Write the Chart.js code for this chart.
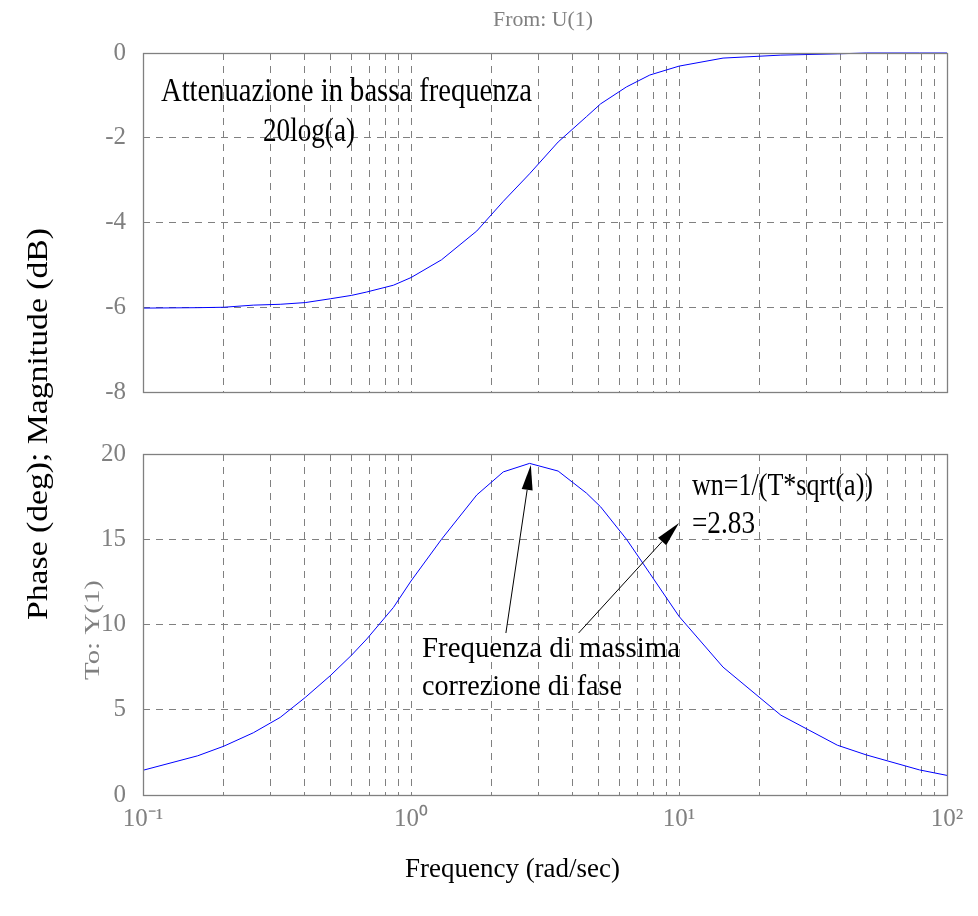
<!DOCTYPE html>
<html lang="it">
<head>
<meta charset="UTF-8">
<title>Bode - rete anticipatrice</title>
<script src="https://cdn.jsdelivr.net/npm/chart.js"></script>
<style>
  body { margin: 0; background: #fff; }
  #wrap { position: relative; width: 978px; height: 916px; }
  #wrap canvas { position: absolute; left: 0; top: 0; }
</style>
</head>
<body>
<div id="wrap">
  <canvas id="magChart" width="978" height="916"></canvas>
  <canvas id="phaseChart" width="978" height="916"></canvas>
</div>
<script>
// dati
const freq = [0.1, 0.16, 0.2, 0.258, 0.325, 0.403, 0.5, 0.6, 0.684, 0.86, 1.0, 1.3, 1.76, 2.21, 2.77,
              3.54, 4.52, 5.1, 6.37, 7.78, 10, 14.6, 24, 39, 50, 79, 100];
const magnitudeDb = [-6.02, -6.01, -6.0, -5.95, -5.93, -5.89, -5.8, -5.72, -5.64, -5.48, -5.3, -4.88, -4.2, -3.5, -2.85,
                     -2.1, -1.5, -1.2, -0.8, -0.52, -0.31, -0.12, -0.05, -0.02, 0, 0, 0];
const phaseDeg = [1.45, 2.3, 2.86, 3.65, 4.55, 5.72, 7.0, 8.2, 9.15, 11.0, 12.55, 15.0, 17.6, 18.95, 19.45,
                  19.0, 17.7, 16.9, 15.0, 13.0, 10.48, 7.5, 4.68, 2.92, 2.35, 1.47, 1.15];

const freqTicks = [0.1, 0.2, 0.3, 0.4, 0.5, 0.6, 0.7, 0.8, 0.9, 1, 2, 3, 4, 5, 6, 7, 8, 9,
                   10, 20, 30, 40, 50, 60, 70, 80, 90, 100];
const freqTickLabels = { 0.1: '10⁻¹', 1: '10⁰', 10: '10¹', 100: '10²' };
const magTicks = [-8, -6, -4, -2, 0];
const phaseTicks = [0, 5, 10, 15, 20];

const SERIF = '"Liberation Serif", "Times New Roman", serif';
const GREY = '#808080';

// testo con larghezza imposta (il font originale e' piu' stretto)
function fitText(ctx, text, x, y, w, size, color, rot) {
  ctx.save();
  ctx.font = size + 'px ' + SERIF;
  ctx.fillStyle = color;
  ctx.textAlign = 'left';
  ctx.textBaseline = 'alphabetic';
  const m = ctx.measureText(text).width;
  ctx.translate(x, y);
  if (rot) ctx.rotate(rot);
  ctx.scale(w / m, 1);
  ctx.fillText(text, 0, 0);
  ctx.restore();
}

function arrow(ctx, x1, y1, x2, y2) {
  const a = Math.atan2(y2 - y1, x2 - x1);
  const L = 25, W = 5.5;
  const bx = x2 - L * Math.cos(a), by = y2 - L * Math.sin(a);
  ctx.save();
  ctx.strokeStyle = '#000';
  ctx.fillStyle = '#000';
  ctx.lineWidth = 1;
  ctx.beginPath();
  ctx.moveTo(x1, y1);
  ctx.lineTo(bx, by);
  ctx.stroke();
  ctx.beginPath();
  ctx.moveTo(x2, y2);
  ctx.lineTo(bx + W * Math.sin(a), by - W * Math.cos(a));
  ctx.lineTo(bx - W * Math.sin(a), by + W * Math.cos(a));
  ctx.closePath();
  ctx.fill();
  ctx.restore();
}

const boxPlugin = {
  id: 'box',
  afterDraw(chart) {
    const { ctx, chartArea: a } = chart;
    ctx.save();
    ctx.strokeStyle = GREY;
    ctx.lineWidth = 1.3;
    ctx.strokeRect(a.left + 0.5, a.top + 0.5, a.right - a.left, a.bottom - a.top);
    ctx.restore();
  }
};

// frecce in coordinate dei dati [f1, p1, f2, p2]
const arrows = [[2.26, 9.5, 2.8, 19.35], [4.22, 9.5, 10.0, 15.95]];

const labelsPlugin = {
  id: 'labels',
  afterDraw(chart) {
    const { ctx, scales } = chart;
    const x = scales.x, y = scales.y;
    arrows.forEach(r => arrow(ctx, x.getPixelForValue(r[0]), y.getPixelForValue(r[1]),
                                   x.getPixelForValue(r[2]), y.getPixelForValue(r[3])));
    fitText(ctx, 'Attenuazione in bassa frequenza', 161, 101, 371, 33, '#000');
    fitText(ctx, '20log(a)', 263, 141, 92, 33, '#000');
    fitText(ctx, 'wn=1/(T*sqrt(a))', 692, 495, 181, 31, '#000');
    fitText(ctx, '=2.83', 692, 533, 63, 31, '#000');
    fitText(ctx, 'Frequenza di massima', 422, 657, 258, 30, '#000');
    fitText(ctx, 'correzione di fase', 422, 695, 200, 30, '#000');
    fitText(ctx, 'From: U(1)', 493, 26, 100, 22, GREY);
    fitText(ctx, 'To: Y(1)', 99, 680, 100, 22, GREY, -Math.PI / 2);
    fitText(ctx, 'Phase (deg); Magnitude (dB)', 47, 620, 392, 30, '#000', -Math.PI / 2);
    fitText(ctx, 'Frequency (rad/sec)', 405, 877, 215, 28, '#000');
  }
};

function xScale(showLabels) {
  return {
    type: 'logarithmic',
    min: 0.1,
    max: 100,
    afterBuildTicks: s => { s.ticks = freqTicks.map(v => ({ value: v })); },
    afterFit: s => { s.height = showLabels ? 60 : 0; },
    grid: { color: GREY, lineWidth: 1, drawTicks: false },
    border: { display: false, dash: [7, 6] },
    ticks: {
      display: showLabels,
      autoSkip: false,
      maxRotation: 0,
      padding: 9,
      color: GREY,
      font: { family: SERIF, size: 25 },
      callback: v => freqTickLabels[v] || ''
    }
  };
}

function yScale(min, max, tickList) {
  return {
    min: min,
    max: max,
    afterBuildTicks: s => { s.ticks = tickList.map(v => ({ value: v })); },
    afterFit: s => { s.width = 143; },
    grid: { color: GREY, lineWidth: 1, drawTicks: false },
    border: { display: false, dash: [7, 6] },
    ticks: { padding: 17, color: GREY, font: { family: SERIF, size: 25 } }
  };
}

const common = {
  responsive: false,
  animation: false,
  plugins: { legend: { display: false }, tooltip: { enabled: false } },
  elements: { point: { radius: 0 }, line: { tension: 0 } }
};

new Chart(document.getElementById('magChart'), {
  type: 'line',
  data: {
    datasets: [{
      data: freq.map((f, i) => ({ x: f, y: magnitudeDb[i] })),
      borderColor: '#0000ff',
      borderWidth: 1,
      clip: false
    }]
  },
  options: Object.assign({}, common, {
    layout: { padding: { left: 0, top: 53, right: 31, bottom: 524 } },
    scales: { x: xScale(false), y: yScale(-8, 0, magTicks) }
  }),
  plugins: [boxPlugin]
});

new Chart(document.getElementById('phaseChart'), {
  type: 'line',
  data: {
    datasets: [{
      data: freq.map((f, i) => ({ x: f, y: phaseDeg[i] })),
      borderColor: '#0000ff',
      borderWidth: 1,
      clip: false
    }]
  },
  options: Object.assign({}, common, {
    layout: { padding: { left: 0, top: 454, right: 31, bottom: 61 } },
    scales: { x: xScale(true), y: yScale(0, 20, phaseTicks) }
  }),
  plugins: [boxPlugin, labelsPlugin]
});
</script>
</body>
</html>
